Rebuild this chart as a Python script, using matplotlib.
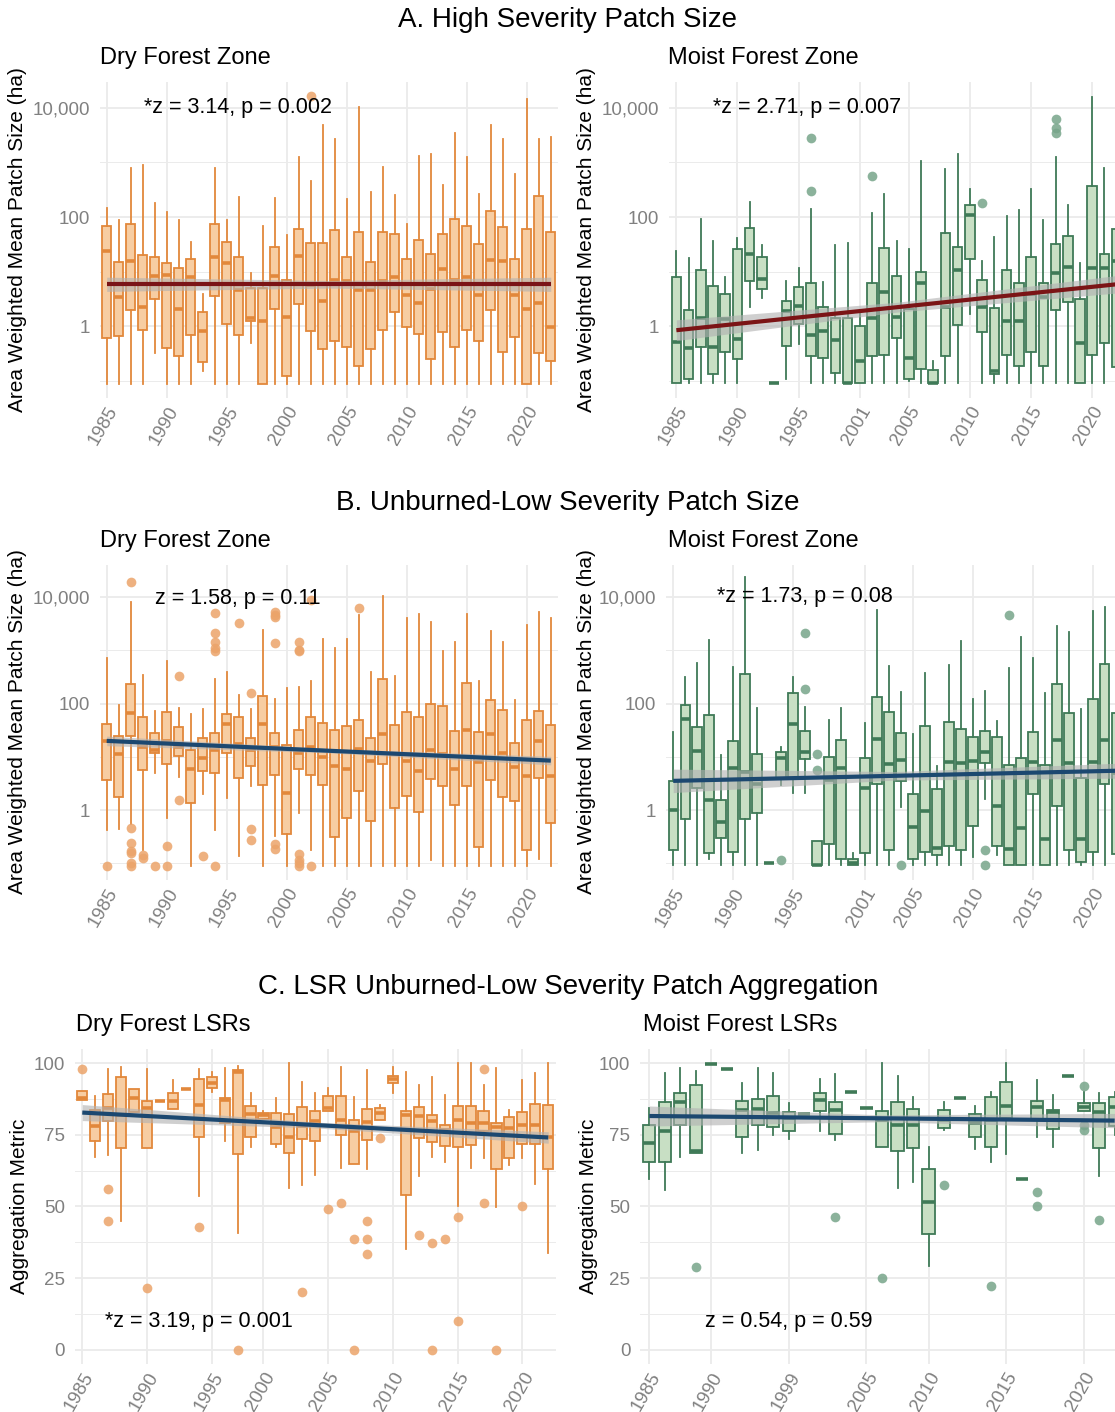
import numpy as np
import matplotlib
matplotlib.use("Agg")
import matplotlib.pyplot as plt
from matplotlib.ticker import FixedLocator, NullFormatter

plt.rcParams["font.family"] = ["Liberation Sans", "DejaVu Sans"]

# ---------------- data (A and B panels in log10 ha, C panels in metric units)
# A. High severity, dry forest zone
dryA_years = list(range(1985, 2023))
dryA_hi = [2.17, 1.94, 2.89, 2.96, 2.25, 2.09, 1.94, 1.55, 0.59, 2.90, 1.95, 2.37, 0.98,
           1.84, 2.34, 1.67, 3.09, 2.66, 3.69, 3.43, 2.33, 4.01, 2.45, 2.92, 2.40, 1.87,
           3.12, 3.15, 2.59, 3.54, 3.09, 2.43, 3.69, 3.43, 2.78, 4.16, 3.43, 3.47]
dryA_q3 = [1.84, 1.18, 1.87, 1.31, 1.26, 1.16, 1.06, 1.23, 0.27, 1.87, 1.55, 1.27, 0.70,
           0.70, 1.46, 0.84, 1.79, 1.53, 1.53, 1.77, 1.26, 1.72, 1.18, 1.73, 1.69, 1.23,
           1.58, 1.32, 1.69, 1.97, 1.84, 1.50, 2.11, 1.81, 1.23, 1.79, 2.39, 1.72]
dryA_med = [1.37, 0.53, 1.20, 0.35, 0.93, 0.94, 0.32, 0.91, -0.09, 1.26, 1.16, 0.66, 0.15,
            0.10, 0.92, 0.18, 1.28, 0.76, 0.46, 0.85, 0.83, 0.66, 0.66, 0.83, 0.91, 0.57,
            0.43, 0.68, 1.05, 0.85, 0.91, 0.58, 1.22, 1.19, 0.58, 0.32, 0.43, -0.01]
dryA_q1 = [-0.21, -0.18, 0.30, -0.07, 0.50, -0.39, -0.54, -0.16, -0.66, 0.56, 0.05, -0.15,
           0.09, -1.05, 0.32, -0.90, 0.41, -0.09, -0.41, -0.26, -0.38, -0.72, -0.41, -0.07,
           0.27, -0.01, -0.14, -0.60, -0.11, -0.37, -0.07, -0.27, 0.30, -0.46, -0.19, -1.05,
           -0.49, -0.64]
dryA_lo = [-1.05, -1.05, -1.05, -1.05, -0.49, -1.05, -1.05, -1.05, -0.81, -1.05, -1.05,
           -1.05, -0.30, -1.05, -1.05, -1.05, -1.05, -1.05, -1.05, -1.05, -1.05, -1.05,
           -1.05, -1.05, -1.05, -1.05, -1.05, -1.05, -1.05, -1.05, -1.05, -1.05, -1.05,
           -1.05, -1.05, -1.05, -1.05, -1.05]
dryA_out = {2002: [4.21]}
dryA_trend = [0.77, 0.77, 0.77]
dryA_band = [0.13, 0.07, 0.13]

# A. High severity, moist forest zone (no 2000)
moistA_years = list(range(1985, 2000)) + list(range(2001, 2023))
moistA_hi = [1.38, 1.25, 1.97, 1.56, 0.91, 1.61, 2.28, 1.49, -1.03, 0.83, 1.07, 2.14, 0.82,
             1.49, 1.53, 0.30, 2.08, 2.43, 1.56, 1.41, 3.02, -0.63, 2.87, 3.15, 2.51, 1.19,
             1.64, 2.02, 2.13, 2.51, 1.94, 3.10, 2.22, 1.16, 4.19, 2.90, 3.00]
moistA_q3 = [0.91, 0.30, 1.03, 0.74, 0.60, 1.41, 1.80, 1.26, -1.03, 0.47, 0.72, 0.79, 0.36,
             0.16, 0.16, 0.00, 0.79, 1.43, 0.93, 0.32, 1.00, -0.80, 1.70, 1.46, 2.22, 0.85,
             0.33, 1.03, 0.80, 1.26, 0.79, 1.50, 1.66, 0.50, 2.57, 1.32, 1.79]
moistA_med = [-0.29, -0.40, 0.16, -0.37, 0.13, -0.23, 1.32, 0.86, -1.03, 0.29, 0.38, -0.16,
              -0.09, -0.25, -1.03, -0.63, 0.16, 0.62, 0.18, -0.57, 0.79, -1.03, 0.35, 1.03,
              2.04, 0.35, -0.82, 0.10, 0.10, 0.59, 0.53, 0.97, 1.08, -0.31, 1.07, 1.07, 1.20]
moistA_q1 = [-1.03, -0.96, -0.37, -0.87, -0.46, -0.60, 0.83, 0.68, -1.03, -0.35, 0.04, -0.55,
             -0.57, -0.86, -1.03, -1.03, -0.54, -0.52, -0.21, -0.96, -0.78, -1.03, -0.55,
             0.02, 1.23, -0.11, -0.87, -0.52, -0.73, -0.47, -0.73, 0.30, 0.45, -1.03, -0.52,
             -0.31, -0.75]
moistA_lo = [-1.03, -1.03, -1.03, -1.03, -1.03, -1.03, 0.35, 0.52, -1.03, -0.96, -0.32,
             -1.03, -1.03, -1.03, -1.03, -1.03, -1.03, -1.03, -1.03, -0.99, -1.03, -1.03,
             -1.03, -1.03, 0.23, -1.03, -1.03, -1.03, -1.03, -1.03, -1.03, -1.03, -1.03,
             -1.03, -1.03, -1.03, -1.03]
moistA_out = {1996: [3.45, 2.47], 2002: [2.75], 2011: [2.26], 2017: [3.79, 3.62, 3.54]}
moistA_trend = [-0.07, 0.35, 0.77]
moistA_band = [0.19, 0.09, 0.16]

# B. Unburned-low severity, dry forest zone
dryB_years = list(range(1985, 2023))
dryB_hi = [2.85, 1.98, 3.91, 2.54, 1.87, 2.79, 1.92, 1.80, 1.89, 2.46, 2.59, 2.16, 1.90,
           3.38, 2.08, 2.29, 2.31, 2.43, 3.21, 3.04, 3.21, 3.66, 2.59, 4.02, 2.52, 3.60,
           3.69, 3.53, 2.98, 3.16, 3.69, 2.43, 3.37, 3.15, 2.06, 3.48, 3.72, 3.60]
dryB_q3 = [1.61, 1.39, 2.36, 1.75, 1.44, 1.84, 1.56, 1.13, 1.36, 1.44, 1.80, 1.74, 1.35,
           2.14, 1.45, 1.22, 1.51, 1.75, 1.64, 1.51, 1.58, 1.70, 1.35, 2.47, 1.59, 1.84,
           1.74, 2.00, 1.95, 1.49, 2.39, 1.47, 2.06, 1.88, 1.26, 1.69, 1.87, 1.59]
dryB_med = [1.29, 1.05, 1.83, 1.18, 1.13, 1.30, 1.18, 0.77, 0.98, 1.12, 1.61, 1.24, 1.12,
            1.62, 1.18, 0.32, 1.08, 1.18, 1.00, 0.82, 0.77, 1.15, 0.93, 1.43, 1.05, 0.93,
            0.74, 1.12, 1.05, 0.77, 1.51, 0.90, 1.43, 1.07, 0.81, 0.64, 1.29, 0.64]
dryB_q1 = [0.56, 0.25, 1.39, 0.76, 1.07, 0.87, 1.01, 0.14, 0.73, 0.69, 1.08, 0.60, 0.82,
           0.48, 0.66, -0.45, 0.77, 0.66, 0.47, -0.50, -0.14, 0.36, -0.20, 0.87, 0.04, 0.26,
           -0.03, 0.58, 0.46, 0.09, 0.46, -0.69, 0.57, 0.25, 0.17, -0.74, 0.60, -0.24]
dryB_lo = [-0.38, -0.36, -0.25, -0.74, 0.70, -0.15, 0.63, -1.04, 0.31, -0.38, 0.22, -0.86,
           0.46, -1.04, -0.48, -1.04, -0.06, -0.74, -1.04, -1.04, -1.04, -1.04, -1.04, -1.04,
           -1.04, -1.04, -1.04, -0.93, -1.04, -1.04, -1.04, -1.04, -1.04, -1.04, -1.04,
           -1.04, -0.92, -1.04]
dryB_out = {1985: [-1.04], 1987: [4.29, -0.34, -0.62, -0.77, -0.81, -0.99, -1.04],
            1988: [-0.84, -0.90], 1989: [-1.04], 1990: [-0.68, -1.04], 1991: [2.52, 0.20],
            1993: [-0.86], 1994: [3.70, 3.32, 3.15, 3.04, 2.98, -1.04], 1996: [3.51],
            1997: [2.20, -0.36, -0.56], 1999: [3.72, 3.67, 3.63, 3.14, -0.64, -0.73],
            2001: [3.15, 3.01, 2.98, -0.82, -0.93, -0.99, -1.04], 2002: [3.95, -1.04],
            2006: [3.79]}
dryB_trend = [1.30, 1.115, 0.93]
dryB_band = [0.09, 0.04, 0.08]

# B. Unburned-low severity, moist forest zone
moistB_years = list(range(1985, 2023))
moistB_hi = [1.46, 2.49, 2.77, 3.20, 1.04, 2.68, 4.38, 1.92, -1.00, 1.18, 2.50, 1.94, -0.57,
             1.69, 1.91, -0.81, 1.64, 3.75, 2.71, 2.22, 1.43, 2.58, 0.82, 2.73, 3.17, 2.08,
             2.24, 1.67, 2.66, 3.24, 2.85, 2.19, 3.45, 3.34, 1.89, 3.73, 3.81, 3.30]
moistB_q3 = [0.55, 1.98, 1.56, 1.78, 0.20, 1.29, 2.55, 1.05, -1.00, 1.10, 2.19, 1.49, -0.57,
             0.99, 1.31, -0.91, 0.98, 2.13, 1.84, 1.45, 0.31, 1.57, 0.40, 1.65, 1.53, 1.37,
             1.48, 1.37, 0.84, 0.98, 1.46, 0.84, 2.37, 1.83, 0.60, 2.08, 2.74, 1.83]
moistB_med = [0.00, 1.72, 1.11, 0.19, -0.22, 0.80, 0.72, 0.50, -1.00, 0.98, 1.61, 1.10, -1.02,
              0.57, 0.80, -1.00, 0.42, 1.34, 0.87, 0.94, -0.31, -0.02, -0.71, 0.91, 0.88,
              0.93, 1.09, 0.08, -0.72, -0.33, 0.91, -0.55, 1.31, 0.88, -0.55, 0.91, 1.31,
              0.70]
moistB_q1 = [-0.74, -0.16, 0.42, -0.81, -0.52, -0.79, -0.17, -0.06, -1.00, 0.60, 0.60, 0.96,
             -1.02, -0.63, -0.91, -1.02, -0.81, 0.49, -0.74, 0.55, -0.91, -0.79, -0.85, -0.68,
             -0.74, -0.30, 0.88, -0.67, -1.02, -1.02, 0.30, -1.02, 0.08, -0.74, -0.98, -0.79,
             0.49, -0.83]
moistB_lo = [-1.02, -1.02, -1.02, -0.91, -1.02, -1.02, -1.02, -1.02, -1.00, 0.47, 0.33, 0.33,
             -1.02, -1.02, -1.02, -1.02, -1.02, -1.02, -1.02, 0.06, -1.02, -1.02, -1.02, -1.02,
             -1.02, -0.88, 0.21, -0.84, -1.02, -1.02, -1.02, -1.02, -1.02, -1.02, -1.02,
             -1.02, -1.02, -1.02]
moistB_out = {1994: [-0.94], 1996: [3.32, 2.28], 1997: [1.06, 0.76], 2004: [-1.02],
              2011: [-0.74, -1.02], 2013: [3.67]}
moistB_trend = [0.55, 0.645, 0.74]
moistB_band = [0.22, 0.08, 0.14]

# C. LSR aggregation, dry forest LSRs (no 1998)
dryC_years = list(range(1985, 1998)) + list(range(1999, 2023))
dryC_hi = [90.3, 88.6, 97.9, 98.8, 91.2, 97.9, 86.9, 94.2, 90.9, 97.9, 97.1, 98.5, 99.1,
           89.8, 83.5, 87.8, 100.0, 93.6, 89.8, 91.5, 98.6, 88.4, 97.7, 85.5, 98.8, 97.1,
           92.4, 95.3, 89.0, 100.0, 100.0, 92.4, 98.3, 83.7, 94.0, 96.5, 100.0]
dryC_q3 = [90.3, 83.7, 89.2, 95.1, 91.2, 87.0, 86.9, 89.8, 90.9, 94.5, 95.3, 87.8, 97.7,
           85.1, 82.6, 82.8, 82.3, 84.9, 83.4, 88.6, 88.6, 80.2, 84.0, 84.3, 95.6, 83.5,
           84.9, 82.0, 78.5, 85.1, 85.1, 83.5, 79.1, 81.2, 83.1, 85.7, 85.5]
dryC_med = [88.0, 78.1, 84.3, 82.0, 87.8, 84.3, 86.9, 86.9, 90.9, 85.5, 93.3, 87.2, 96.9,
            82.3, 82.0, 77.7, 74.4, 78.0, 79.7, 84.5, 80.2, 76.2, 79.4, 82.6, 94.4, 82.0,
            81.6, 79.7, 76.7, 80.2, 79.1, 79.1, 77.7, 77.3, 78.3, 78.5, 74.4]
dryC_q1 = [87.2, 72.7, 79.7, 70.3, 83.1, 70.3, 86.9, 84.0, 90.9, 74.4, 91.5, 79.1, 68.3,
           74.4, 80.6, 71.9, 68.8, 73.5, 72.7, 83.4, 75.0, 64.9, 73.3, 80.2, 93.0, 54.1,
           73.8, 72.4, 71.2, 70.9, 71.5, 76.2, 63.0, 66.9, 71.9, 71.9, 63.0]
dryC_lo = [87.2, 67.4, 68.0, 44.8, 83.1, 70.3, 86.9, 84.0, 90.9, 53.5, 89.9, 73.0, 40.9,
           70.9, 80.6, 70.7, 56.6, 57.6, 61.0, 83.4, 63.6, 64.9, 63.1, 80.2, 89.8, 35.2,
           60.7, 67.2, 65.7, 50.2, 63.6, 66.9, 49.8, 64.5, 66.9, 57.9, 33.7]
dryC_out = {1985: [97.9], 1987: [56.0, 44.8], 1990: [21.7], 1994: [43.0], 1997: [0.0],
            2003: [20.1], 2005: [49.3], 2006: [51.2], 2007: [38.6, 0.0],
            2008: [45.0, 38.6, 33.4], 2009: [73.8], 2012: [40.1], 2013: [37.4, 0.0],
            2014: [38.6], 2015: [46.3, 10.1], 2017: [97.9, 51.2], 2018: [0.0], 2020: [50.0]}
dryC_trend = [82.8, 78.45, 74.1]
dryC_band = [2.8, 1.0, 2.0]

# C. LSR aggregation, moist forest LSRs
moistC_years = [1985, 1986, 1987, 1988, 1990, 1991, 1992, 1994, 1997, 1999, 2000, 2001, 2003,
                2004, 2005, 2006, 2007, 2008, 2010, 2011, 2012, 2013, 2014, 2015, 2016, 2017,
                2018, 2019, 2020, 2021, 2022]
moistC_hi = [84.3, 96.5, 98.5, 97.3, 99.8, 97.9, 93.3, 98.5, 96.5, 86.0, 82.3, 94.4, 96.3,
             90.1, 84.3, 100.0, 95.7, 88.4, 70.7, 86.6, 88.0, 85.2, 90.1, 100.0, 59.5, 94.2,
             89.0, 95.6, 90.1, 89.5, 90.0]
moistC_q3 = [78.3, 86.4, 89.5, 92.4, 99.8, 97.9, 87.0, 87.4, 88.6, 83.1, 82.3, 89.5, 86.6,
             90.1, 84.3, 83.5, 86.6, 84.1, 63.0, 83.7, 88.0, 82.3, 88.4, 93.6, 59.5, 86.9,
             83.7, 95.6, 86.3, 86.0, 88.1]
moistC_med = [72.1, 76.4, 86.6, 69.4, 99.8, 97.9, 83.7, 84.0, 82.8, 80.8, 82.3, 87.2, 83.7,
              90.1, 84.3, 80.2, 78.5, 78.5, 51.7, 80.2, 88.0, 79.1, 80.2, 85.2, 59.5, 84.9,
              83.1, 95.6, 84.9, 83.1, 84.9]
moistC_q1 = [65.7, 65.7, 78.3, 68.8, 99.8, 97.9, 74.4, 78.3, 77.6, 76.5, 82.3, 83.5, 75.3,
             90.1, 84.3, 70.9, 69.4, 70.6, 40.3, 77.3, 88.0, 74.4, 70.7, 80.8, 59.5, 80.2,
             77.1, 95.6, 83.4, 70.3, 78.1]
moistC_lo = [59.5, 55.6, 67.4, 68.8, 99.8, 97.9, 68.6, 69.8, 75.0, 73.6, 82.3, 76.2, 73.3,
             90.1, 84.3, 70.9, 56.4, 58.5, 29.3, 76.7, 88.0, 70.0, 65.7, 68.4, 59.5, 74.4,
             70.7, 95.6, 83.4, 60.5, 75.0]
moistC_out = {1988: [28.7], 2003: [46.3], 2006: [25.0], 2011: [57.6], 2014: [22.3],
              2017: [55.0, 50.0], 2020: [92.2, 78.5, 76.7], 2021: [45.3]}
moistC_trend = [81.6, 80.8, 80.0]
moistC_band = [3.5, 1.2, 2.5]

dry_labels = ["1985", "1990", "1995", "2000", "2005", "2010", "2015", "2020"]
moistAB_labels = ["1985", "1990", "1995", "2001", "2005", "2010", "2015", "2020"]
moistC_labels = ["1985", "1990", "1999", "2005", "2010", "2015", "2020"]

# ---------------- style
W, H = 1115, 1412
DRY = dict(fill="#f7cda2", edge="#e2883b", dot="#eba46a")
MOIST = dict(fill="#c8dfc4", edge="#3f7a57", dot="#77a58a")
RED = "#7b1416"
BLUE = "#1c4870"
GRID = "#ebebeb"
TICK = "#808080"

fig = plt.figure(figsize=(W / 100, H / 100), dpi=100)


def panel(rect, years, hi, q3, med, q1, lo, out, col, trend, band, tcol, log,
          labels, note, note_xy):
    left, top, right, bottom = rect
    ax = fig.add_axes([left / W, 1 - bottom / H, (right - left) / W, (bottom - top) / H])
    if log:
        ax.set_yscale("log")

        def conv(v):
            return 10 ** np.asarray(v, float)
    else:
        def conv(v):
            return np.asarray(v, float)
    n = len(years)
    stats = []
    for i, yr in enumerate(years):
        stats.append(dict(whislo=conv(lo[i]), q1=conv(q1[i]), med=conv(med[i]),
                          q3=conv(q3[i]), whishi=conv(hi[i]),
                          fliers=conv(out.get(yr, []))))
    ax.bxp(stats, positions=np.arange(n), widths=0.78, patch_artist=True,
           showcaps=False, manage_ticks=False,
           boxprops=dict(facecolor=col["fill"], edgecolor=col["edge"], linewidth=1.3),
           whiskerprops=dict(color=col["edge"], linewidth=1.3),
           medianprops=dict(color=col["edge"], linewidth=2.6, solid_capstyle="butt"),
           flierprops=dict(marker="o", markerfacecolor=col["dot"], markeredgecolor="none",
                           markersize=7, alpha=0.85))
    # fitted trend with confidence band
    xs = [0, (n - 1) / 2, n - 1]
    tr = np.asarray(trend, float)
    bd = np.asarray(band, float)
    ax.fill_between(xs, conv(tr - bd), conv(tr + bd), color="#b0b0b0", alpha=0.6,
                    linewidth=0, zorder=3)
    ax.plot(xs, conv(tr), color=tcol, linewidth=3, zorder=4, solid_capstyle="butt")

    ax.set_xlim(-0.6, n - 0.4)
    if log:
        ax.set_ylim(10 ** -1.31, 10 ** (4.47 if top < 200 else 4.60))
        ax.yaxis.set_major_locator(FixedLocator([1, 100, 10000]))
        ax.set_yticklabels(["1", "100", "10,000"])
        ax.yaxis.set_minor_locator(FixedLocator([0.1, 10, 1000]))
        ax.yaxis.set_minor_formatter(NullFormatter())
    else:
        ax.set_ylim(-5, 105)
        ax.set_yticks([0, 25, 50, 75, 100])
        ax.yaxis.set_minor_locator(FixedLocator([12.5, 37.5, 62.5, 87.5]))
    ax.set_xticks([years.index(int(s)) for s in labels])
    ax.set_xticklabels(labels, rotation=60, ha="right", va="top", rotation_mode="anchor")
    ax.tick_params(which="both", length=0, labelcolor=TICK, labelsize=13.5)
    ax.tick_params(axis="y", pad=7)
    ax.tick_params(axis="x", pad=4)
    ax.grid(which="major", color=GRID, linewidth=1.3)
    ax.grid(which="minor", axis="y", color=GRID, linewidth=0.7)
    ax.set_axisbelow(True)
    for s in ax.spines.values():
        s.set_visible(False)
    ax.text(note_xy[0], conv(note_xy[1]), note, ha="center", va="center", fontsize=15.5,
            zorder=5)
    return ax


# rows: titles and panels
fig.text(568 / W, 1 - 20 / H, "A. High Severity Patch Size", ha="center", va="center",
         fontsize=20)
fig.text(568 / W, 1 - 503 / H, "B. Unburned-Low Severity Patch Size", ha="center",
         va="center", fontsize=20)
fig.text(568 / W, 1 - 987 / H, "C. LSR Unburned-Low Severity Patch Aggregation",
         ha="center", va="center", fontsize=20)

panel((99.5, 82, 558, 398), dryA_years, dryA_hi, dryA_q3, dryA_med, dryA_q1, dryA_lo,
      dryA_out, DRY, dryA_trend, dryA_band, RED, True, dry_labels,
      "*z = 3.14, p = 0.002", (10.9, 4.0))
panel((669, 82, 1124, 398), moistA_years, moistA_hi, moistA_q3, moistA_med, moistA_q1,
      moistA_lo, moistA_out, MOIST, moistA_trend, moistA_band, RED, True, moistAB_labels,
      "*z = 2.71, p = 0.007", (10.7, 4.0))
panel((99.5, 565, 558, 880), dryB_years, dryB_hi, dryB_q3, dryB_med, dryB_q1, dryB_lo,
      dryB_out, DRY, dryB_trend, dryB_band, BLUE, True, dry_labels,
      "z = 1.58, p = 0.11", (10.9, 3.98))
panel((666, 565, 1124, 880), moistB_years, moistB_hi, moistB_q3, moistB_med, moistB_q1,
      moistB_lo, moistB_out, MOIST, moistB_trend, moistB_band, BLUE, True, moistAB_labels,
      "*z = 1.73, p = 0.08", (11.0, 4.0))
panel((74.5, 1049, 556, 1364), dryC_years, dryC_hi, dryC_q3, dryC_med, dryC_q1, dryC_lo,
      dryC_out, DRY, dryC_trend, dryC_band, BLUE, False, dry_labels,
      "*z = 3.19, p = 0.001", (9.0, 10))
panel((640, 1049, 1124, 1364), moistC_years, moistC_hi, moistC_q3, moistC_med, moistC_q1,
      moistC_lo, moistC_out, MOIST, moistC_trend, moistC_band, BLUE, False, moistC_labels,
      "z = 0.54, p = 0.59", (9.0, 10))

# panel subtitles
for x, y, s in [(100, 58, "Dry Forest Zone"), (668, 58, "Moist Forest Zone"),
                (100, 541, "Dry Forest Zone"), (668, 541, "Moist Forest Zone"),
                (76, 1025, "Dry Forest LSRs"), (643, 1025, "Moist Forest LSRs")]:
    fig.text(x / W, 1 - y / H, s, ha="left", va="center", fontsize=17)

# axis titles
for x, y, s in [(18, 240, "Area Weighted Mean Patch Size (ha)"),
                (586, 240, "Area Weighted Mean Patch Size (ha)"),
                (18, 722, "Area Weighted Mean Patch Size (ha)"),
                (586, 722, "Area Weighted Mean Patch Size (ha)"),
                (20, 1206, "Aggregation Metric"), (588, 1206, "Aggregation Metric")]:
    fig.text(x / W, 1 - y / H, s, ha="center", va="center", rotation=90, fontsize=15)

fig.savefig("out.png", dpi=100, facecolor="white")
